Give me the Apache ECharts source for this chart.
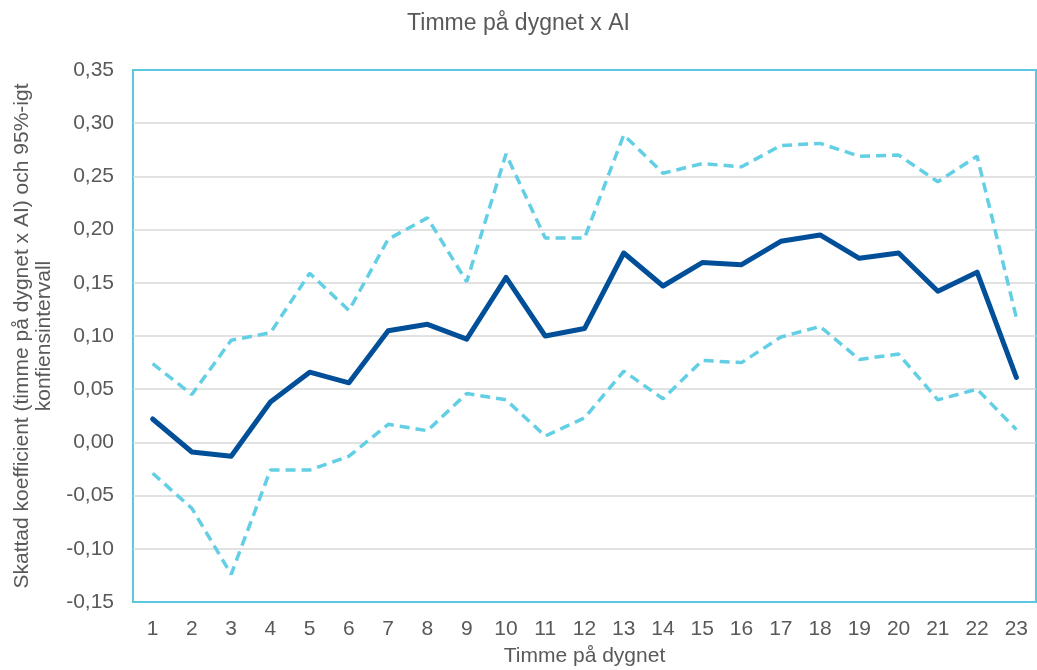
<!DOCTYPE html>
<html>
<head>
<meta charset="utf-8">
<script src="https://cdn.jsdelivr.net/npm/echarts@6/dist/echarts.min.js"></script>
<style>
  html, body { margin: 0; padding: 0; background: #fff; }
  #chart { width: 1037px; height: 670px; }
</style>
</head>
<body>
<div id="chart"></div>
<script>
// Hour of day (1-23)
const hours = ['1','2','3','4','5','6','7','8','9','10','11','12','13','14','15','16','17','18','19','20','21','22','23'];

// Estimated coefficient (hour x AI)
const estimate = [0.022, -0.009, -0.013, 0.038, 0.066, 0.056, 0.105, 0.111, 0.097, 0.155, 0.100, 0.107, 0.178, 0.147, 0.169, 0.167, 0.189, 0.195, 0.173, 0.178, 0.142, 0.160, 0.061];

// Upper and lower bounds of the 95% confidence interval
const upper = [0.074, 0.045, 0.096, 0.103, 0.159, 0.124, 0.191, 0.211, 0.151, 0.271, 0.192, 0.192, 0.289, 0.253, 0.262, 0.259, 0.279, 0.281, 0.269, 0.270, 0.245, 0.269, 0.117];
const lower = [-0.029, -0.062, -0.124, -0.026, -0.026, -0.013, 0.017, 0.011, 0.046, 0.040, 0.006, 0.023, 0.067, 0.041, 0.077, 0.075, 0.099, 0.109, 0.078, 0.083, 0.040, 0.050, 0.012];

const textColor = '#595959';
const fontFamily = 'Arial, "Liberation Sans", sans-serif';

const chart = echarts.init(document.getElementById('chart'), null, { renderer: 'canvas' });

chart.setOption({
  animation: false,
  backgroundColor: '#ffffff',
  title: {
    text: 'Timme på dygnet x AI',
    left: 'center',
    top: 7,
    textStyle: { color: textColor, fontSize: 23, fontWeight: 'normal', fontFamily }
  },
  grid: {
    left: 133, right: 1, top: 70, bottom: 68,
    outerBoundsMode: 'none',
    containLabel: false,
    show: true,
    borderColor: '#5BC8E0',
    borderWidth: 2
  },
  xAxis: {
    type: 'category',
    data: hours,
    boundaryGap: true,
    name: 'Timme på dygnet',
    nameLocation: 'middle',
    nameGap: 44,
    nameTextStyle: { color: textColor, fontSize: 21, fontFamily },
    axisLine: { show: false },
    axisTick: { show: false },
    axisLabel: { color: textColor, fontSize: 21, fontFamily, margin: 17 }
  },
  yAxis: {
    type: 'value',
    min: -0.15,
    max: 0.35,
    interval: 0.05,
    name: 'Skattad koefficient (timme på dygnet x AI) och 95%-igt\nkonfiensintervall',
    nameLocation: 'middle',
    nameGap: 77,
    nameTextStyle: { color: textColor, fontSize: 21, fontFamily, lineHeight: 22 },
    axisLine: { show: false },
    axisTick: { show: false },
    axisLabel: {
      color: textColor, fontSize: 21, fontFamily, margin: 19,
      formatter: v => v.toFixed(2).replace('.', ',')
    },
    splitLine: {
      showMinLine: false,
      showMaxLine: false,
      lineStyle: { color: '#D9D9D9', width: 1.5 }
    }
  },
  series: [
    {
      name: 'Övre gräns',
      type: 'line',
      data: upper,
      symbol: 'none',
      lineStyle: { color: '#63CFE5', width: 3.5, type: [10, 6] },
      z: 2
    },
    {
      name: 'Nedre gräns',
      type: 'line',
      data: lower,
      symbol: 'none',
      lineStyle: { color: '#63CFE5', width: 3.5, type: [10, 6] },
      z: 2
    },
    {
      name: 'Skattad koefficient',
      type: 'line',
      data: estimate,
      symbol: 'none',
      lineStyle: { color: '#004F98', width: 5, cap: 'round', join: 'round' },
      z: 3
    }
  ]
});
</script>
</body>
</html>
